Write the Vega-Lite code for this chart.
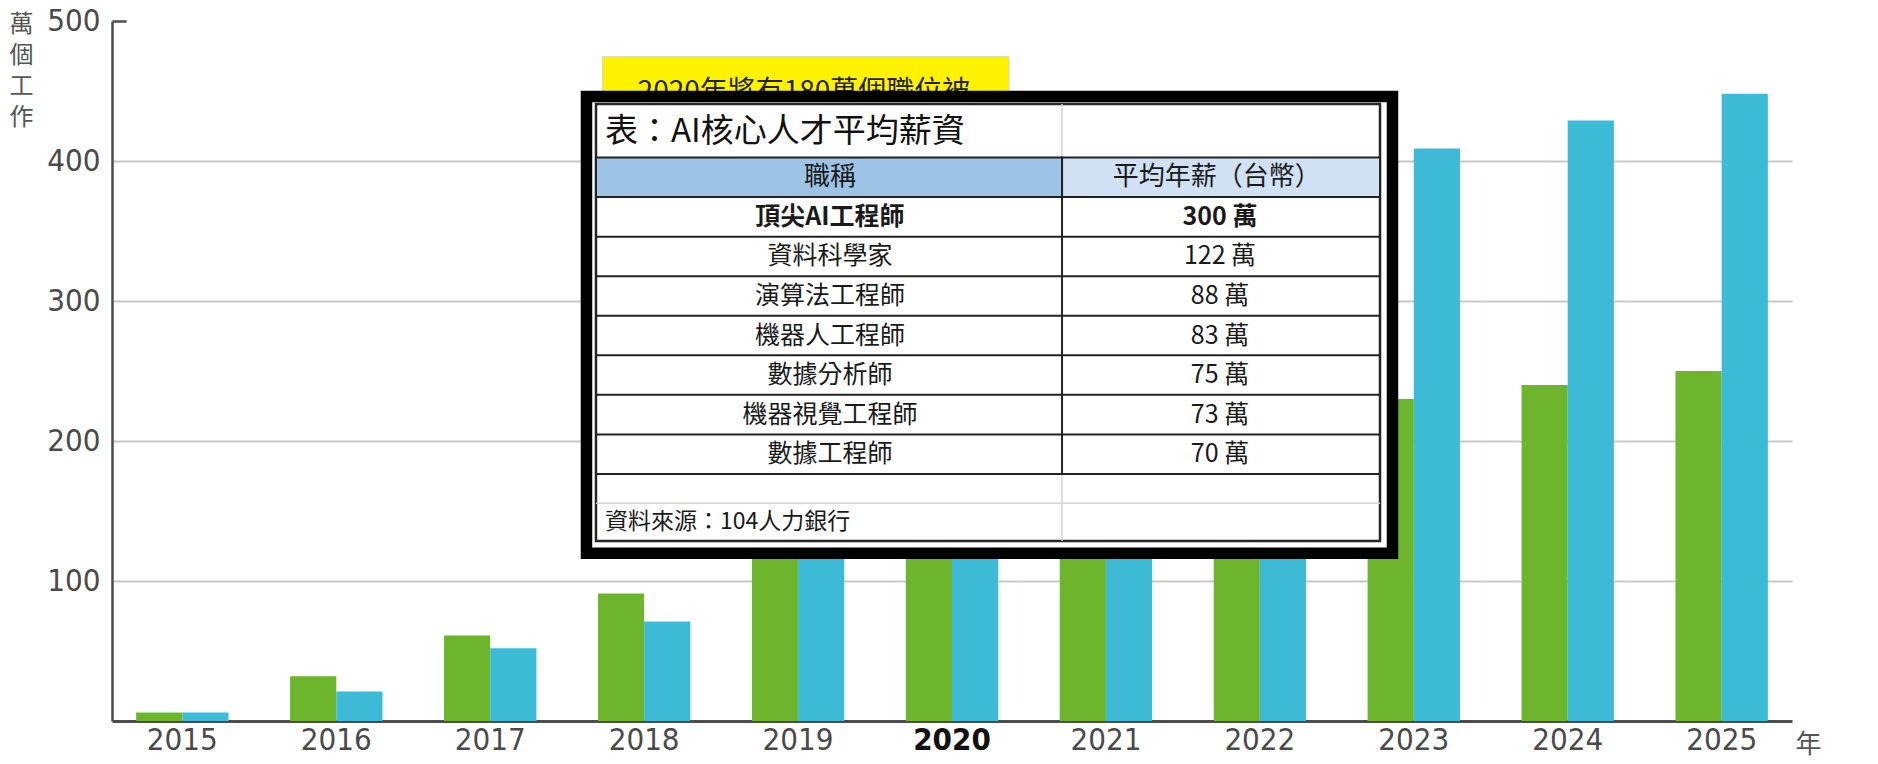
{
  "$schema": "https://vega.github.io/schema/vega-lite/v6.json",
  "width": 1680,
  "height": 700,
  "autosize": {"type": "none"},
  "padding": {"left": 112, "top": 21, "right": 86, "bottom": 43},
  "background": "#ffffff",
  "config": {"view": {"stroke": null}},
  "datasets": {
    "jobs": [
      {"year": 2015, "series": "消失職位", "value": 6},
      {"year": 2015, "series": "新增職位", "value": 6},
      {"year": 2016, "series": "消失職位", "value": 32},
      {"year": 2016, "series": "新增職位", "value": 21},
      {"year": 2017, "series": "消失職位", "value": 61},
      {"year": 2017, "series": "新增職位", "value": 52},
      {"year": 2018, "series": "消失職位", "value": 91},
      {"year": 2018, "series": "新增職位", "value": 71},
      {"year": 2019, "series": "消失職位", "value": 140},
      {"year": 2019, "series": "新增職位", "value": 120},
      {"year": 2020, "series": "消失職位", "value": 180},
      {"year": 2020, "series": "新增職位", "value": 230},
      {"year": 2021, "series": "消失職位", "value": 200},
      {"year": 2021, "series": "新增職位", "value": 300},
      {"year": 2022, "series": "消失職位", "value": 215},
      {"year": 2022, "series": "新增職位", "value": 360},
      {"year": 2023, "series": "消失職位", "value": 230},
      {"year": 2023, "series": "新增職位", "value": 409},
      {"year": 2024, "series": "消失職位", "value": 240},
      {"year": 2024, "series": "新增職位", "value": 429},
      {"year": 2025, "series": "消失職位", "value": 250},
      {"year": 2025, "series": "新增職位", "value": 448}
    ],
    "salary": [
      {"row": 1, "job": "頂尖AI工程師", "pay": "300 萬"},
      {"row": 2, "job": "資料科學家", "pay": "122 萬"},
      {"row": 3, "job": "演算法工程師", "pay": "88 萬"},
      {"row": 4, "job": "機器人工程師", "pay": "83 萬"},
      {"row": 5, "job": "數據分析師", "pay": "75 萬"},
      {"row": 6, "job": "機器視覺工程師", "pay": "73 萬"},
      {"row": 7, "job": "數據工程師", "pay": "70 萬"}
    ],
    "one": [{}]
  },
  "layer": [
    {
      "data": {"name": "jobs"},
      "mark": {"type": "bar"},
      "encoding": {
        "x": {
          "field": "year", "type": "ordinal",
          "scale": {"paddingInner": 0.4, "paddingOuter": 0.157},
          "axis": {
            "title": "年", "titleX": 1696, "titleY": 23, "titleBaseline": "middle", "titleAlign": "center",
            "titleFont": "Noto Sans CJK TC", "titleFontSize": 26, "titleFontWeight": "normal", "titleColor": "#555555",
            "labelAngle": 0, "labelFont": "DejaVu Sans Condensed, Liberation Sans Narrow, Roboto", "labelFontSize": 31,
            "labelColor": {"condition": {"test": "datum.value == 2020", "value": "#111111"}, "value": "#4a4a4a"},
            "labelFontWeight": {"condition": {"test": "datum.value == 2020", "value": "bold"}, "value": "normal"},
            "labelPadding": 4, "ticks": false, "domainColor": "#4d4d4d", "domainWidth": 3
          }
        },
        "xOffset": {"field": "series", "type": "nominal", "sort": ["消失職位", "新增職位"]},
        "y": {
          "field": "value", "type": "quantitative",
          "scale": {"domain": [0, 500], "nice": false},
          "axis": {
            "values": [100, 200, 300, 400, 500],
            "title": ["萬", "個", "工", "作"], "titleAngle": 0, "titleX": -91, "titleY": -9,
            "titleBaseline": "top", "titleAlign": "center", "titleFont": "Noto Sans CJK TC", "titleFontSize": 24,
            "titleLineHeight": 31, "titleColor": "#555555", "titleFontWeight": "normal",
            "labelFont": "DejaVu Sans Condensed, Liberation Sans Narrow, Roboto", "labelFontSize": 31, "labelColor": "#4a4a4a",
            "labelPadding": 26,
            "grid": true, "gridColor": "#c8c8c8", "gridWidth": 2,
            "gridOpacity": {"condition": {"test": "datum.value == 500", "value": 0}, "value": 1},
            "ticks": true, "tickSize": -14, "tickWidth": 2.5,
            "tickColor": {"condition": {"test": "datum.value == 500", "value": "#4d4d4d"}, "value": "transparent"},
            "domainColor": "#4d4d4d", "domainWidth": 2.5
          }
        },
        "color": {
          "field": "series", "type": "nominal",
          "scale": {"domain": ["消失職位", "新增職位"], "range": ["#6cb52d", "#3dbbd6"]},
          "legend": null
        }
      }
    },
    {
      "layer": [
        {
          "data": {"name": "one"},
          "mark": {"type": "rect", "color": "#fff200", "stroke": "#d8d8b0", "strokeWidth": 1},
          "encoding": {
            "x": {"datum": -0.583, "type": "quantitative", "scale": {"domain": [-1.841, 2.4667], "nice": false, "zero": false}, "axis": null},
            "x2": {"datum": 0.459},
            "y": {"datum": -3.051, "type": "quantitative", "scale": {"domain": [-3.9532, 13.746], "nice": false, "zero": false, "reverse": true}, "axis": null},
            "y2": {"datum": -1.9}
          }
        },
        {
          "data": {"name": "one"},
          "mark": {"type": "text", "text": "2020年將有180萬個職位被", "font": "Noto Sans CJK TC", "fontSize": 28, "color": "#222222", "align": "center", "baseline": "middle"},
          "encoding": {
            "x": {"datum": -0.0667, "type": "quantitative"},
            "y": {"datum": -2.133, "type": "quantitative"}
          }
        },
        {
          "data": {"name": "one"},
          "mark": {"type": "rect", "fill": "#ffffff", "stroke": "#000000", "strokeWidth": 11.5},
          "encoding": {
            "x": {"datum": -0.6244, "type": "quantitative"},
            "x2": {"datum": 1.4423},
            "y": {"datum": -2.0443, "type": "quantitative"},
            "y2": {"datum": 9.506}
          }
        },
        {
          "data": {"name": "one"},
          "mark": {"type": "rect", "fill": "#ffffff", "stroke": "#262626", "strokeWidth": 2.5},
          "encoding": {
            "x": {"datum": -0.6, "type": "quantitative"},
            "x2": {"datum": 1.4103},
            "y": {"datum": -1.8546, "type": "quantitative"},
            "y2": {"datum": 9.195}
          }
        },
        {
          "data": {"name": "one"},
          "mark": {"type": "rule", "color": "#d4d4d4", "strokeWidth": 1.5},
          "encoding": {
            "x": {"datum": 0.595, "type": "quantitative"},
            "y": {"datum": -1.8546, "type": "quantitative"},
            "y2": {"datum": -0.5}
          }
        },
        {
          "data": {"name": "one"},
          "mark": {"type": "rule", "color": "#d4d4d4", "strokeWidth": 1.5},
          "encoding": {
            "x": {"datum": 0.595, "type": "quantitative"},
            "y": {"datum": 7.5, "type": "quantitative"},
            "y2": {"datum": 9.195}
          }
        },
        {
          "data": {"name": "one"},
          "mark": {"type": "rule", "color": "#d4d4d4", "strokeWidth": 1.5},
          "encoding": {
            "x": {"datum": -0.6, "type": "quantitative"},
            "x2": {"datum": 1.4103},
            "y": {"datum": 8.242, "type": "quantitative"}
          }
        },
        {
          "data": {"name": "one"},
          "mark": {"type": "rect", "fill": "#9dc3e6", "stroke": "#222222", "strokeWidth": 2},
          "encoding": {
            "x": {"datum": -0.6, "type": "quantitative"},
            "x2": {"datum": 0.595},
            "y": {"datum": -0.5, "type": "quantitative"},
            "y2": {"datum": 0.5}
          }
        },
        {
          "data": {"name": "one"},
          "mark": {"type": "rect", "fill": "#cfe1f3", "stroke": "#222222", "strokeWidth": 2},
          "encoding": {
            "x": {"datum": 0.595, "type": "quantitative"},
            "x2": {"datum": 1.4103},
            "y": {"datum": -0.5, "type": "quantitative"},
            "y2": {"datum": 0.5}
          }
        },
        {
          "data": {"name": "salary"},
          "mark": {"type": "rule", "color": "#222222", "strokeWidth": 2, "yOffset": 19.775},
          "encoding": {
            "x": {"datum": -0.6, "type": "quantitative"},
            "x2": {"datum": 1.4103},
            "y": {"field": "row", "type": "quantitative"}
          }
        },
        {
          "data": {"name": "one"},
          "mark": {"type": "rule", "color": "#222222", "strokeWidth": 2},
          "encoding": {
            "x": {"datum": 0.595, "type": "quantitative"},
            "y": {"datum": -0.5, "type": "quantitative"},
            "y2": {"datum": 7.5}
          }
        },
        {
          "data": {"name": "salary"},
          "mark": {"type": "text", "font": "Noto Sans CJK TC", "fontSize": 25, "color": "#1a1a1a", "align": "center", "baseline": "middle",
                   "fontWeight": {"expr": "datum.row == 1 ? 'bold' : 'normal'"}},
          "encoding": {
            "x": {"datum": 0, "type": "quantitative"},
            "y": {"field": "row", "type": "quantitative"},
            "text": {"field": "job"}
          }
        },
        {
          "data": {"name": "salary"},
          "mark": {"type": "text", "font": "Noto Sans CJK TC", "fontSize": 25, "color": "#1a1a1a", "align": "center", "baseline": "middle",
                   "fontWeight": {"expr": "datum.row == 1 ? 'bold' : 'normal'"}},
          "encoding": {
            "x": {"datum": 1, "type": "quantitative"},
            "y": {"field": "row", "type": "quantitative"},
            "text": {"field": "pay"}
          }
        },
        {
          "data": {"name": "one"},
          "mark": {"type": "text", "text": "表：AI核心人才平均薪資", "font": "Noto Sans CJK TC", "fontSize": 33, "color": "#111111", "align": "left", "baseline": "middle"},
          "encoding": {
            "x": {"datum": -0.577, "type": "quantitative"},
            "y": {"datum": -1.134, "type": "quantitative"}
          }
        },
        {
          "data": {"name": "one"},
          "mark": {"type": "text", "text": "職稱", "font": "Noto Sans CJK TC", "fontSize": 26, "color": "#1a1a1a", "align": "center", "baseline": "middle"},
          "encoding": {
            "x": {"datum": 0, "type": "quantitative"},
            "y": {"datum": 0, "type": "quantitative"}
          }
        },
        {
          "data": {"name": "one"},
          "mark": {"type": "text", "text": "平均年薪（台幣）", "font": "Noto Sans CJK TC", "fontSize": 26, "color": "#1a1a1a", "align": "center", "baseline": "middle"},
          "encoding": {
            "x": {"datum": 0.992, "type": "quantitative"},
            "y": {"datum": 0, "type": "quantitative"}
          }
        },
        {
          "data": {"name": "one"},
          "mark": {"type": "text", "text": "資料來源：104人力銀行", "font": "Noto Sans CJK TC", "fontSize": 23, "color": "#1a1a1a", "align": "left", "baseline": "middle"},
          "encoding": {
            "x": {"datum": -0.577, "type": "quantitative"},
            "y": {"datum": 8.714, "type": "quantitative"}
          }
        }
      ]
    }
  ],
  "resolve": {"scale": {"x": "independent", "y": "independent"}}
}
